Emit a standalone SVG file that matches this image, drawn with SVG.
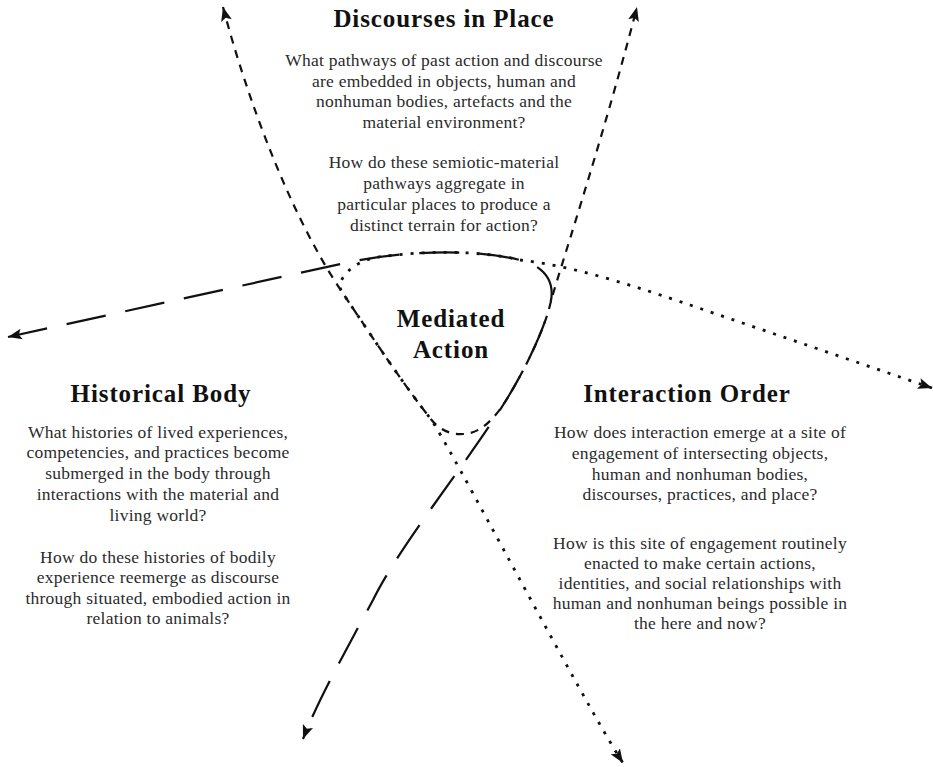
<svg xmlns="http://www.w3.org/2000/svg" width="933" height="767" viewBox="0 0 933 767">
<defs>
<marker id="ah" markerUnits="userSpaceOnUse" markerWidth="16" markerHeight="12" refX="14" refY="6" orient="auto-start-reverse"><path d="M0,0.5 L14,6 L0,11.5 L3,6 Z" fill="#111"/></marker>
</defs>
<style>
.ln{fill:none;stroke:#111;marker-start:url(#ah);marker-end:url(#ah)}
.long{stroke-width:2.2;stroke-dasharray:40 20}
.short{stroke-width:2.2;stroke-dasharray:8 7}
.dot{stroke-width:2.8;stroke-dasharray:3 8}
.title{font-family:"Liberation Serif",serif;font-weight:bold;font-size:25px;letter-spacing:0.9px;fill:#111;text-anchor:middle}
.body{font-family:"Liberation Serif",serif;font-size:17.5px;letter-spacing:0.25px;fill:#2b2b2b;text-anchor:middle}
</style>
<rect width="933" height="767" fill="#fff"/>
<g id="connectors">
<path class="ln long" d="M8,337 L345,263 C400,251 470,248 520,260 C545,266 556,283 550,305 C544,330 525,370 505,402 C465,466 400,545 373,600 C345,652 318,700 303,739"/>
<path class="ln short" d="M223,7 C238,65 280,200 342,292 C365,326 400,380 430,418 C440,431 452,435 463,434 C480,434 495,418 505,402 C525,370 544,330 550,305 C556,280 600,150 637,7"/>
<path class="ln dot" d="M932,388 L690,305 C640,288 575,266 520,260 C480,250.4 427.2,250.4 379.5,256.9 C354,260 334,280 342,292 C365,326 400,380 430,418 C445,437 585,705 623,763"/>
</g>
<g id="discourses-in-place">
<text class="title" x="444" y="27">Discourses in Place</text>
<text class="body" x="444" y="66">What pathways of past action and discourse</text>
<text class="body" x="444" y="86.5">are embedded in objects, human and</text>
<text class="body" x="444" y="107">nonhuman bodies, artefacts and the</text>
<text class="body" x="444" y="127.5">material environment?</text>
<text class="body" x="444" y="168">How do these semiotic-material</text>
<text class="body" x="444" y="189">pathways aggregate in</text>
<text class="body" x="444" y="210">particular places to produce a</text>
<text class="body" x="444" y="231">distinct terrain for action?</text>
</g>
<g id="mediated-action">
<text class="title" x="451" y="327">Mediated</text>
<text class="title" x="451" y="358">Action</text>
</g>
<g id="historical-body">
<text class="title" x="161" y="402">Historical Body</text>
<text class="body" x="158" y="437.5">What histories of lived experiences,</text>
<text class="body" x="158" y="458">competencies, and practices become</text>
<text class="body" x="158" y="479">submerged in the body through</text>
<text class="body" x="158" y="500">interactions with the material and</text>
<text class="body" x="158" y="520.5">living world?</text>
<text class="body" x="158" y="563">How do these histories of bodily</text>
<text class="body" x="158" y="583">experience reemerge as discourse</text>
<text class="body" x="158" y="603.5">through situated, embodied action in</text>
<text class="body" x="158" y="624">relation to animals?</text>
</g>
<g id="interaction-order">
<text class="title" x="687" y="402">Interaction Order</text>
<text class="body" x="700" y="438">How does interaction emerge at a site of</text>
<text class="body" x="700" y="459">engagement of intersecting objects,</text>
<text class="body" x="700" y="479.5">human and nonhuman bodies,</text>
<text class="body" x="700" y="500">discourses, practices, and place?</text>
<text class="body" x="700" y="549">How is this site of engagement routinely</text>
<text class="body" x="700" y="569">enacted to make certain actions,</text>
<text class="body" x="700" y="589">identities, and social relationships with</text>
<text class="body" x="700" y="609">human and nonhuman beings possible in</text>
<text class="body" x="700" y="629">the here and now?</text>
</g>
</svg>
